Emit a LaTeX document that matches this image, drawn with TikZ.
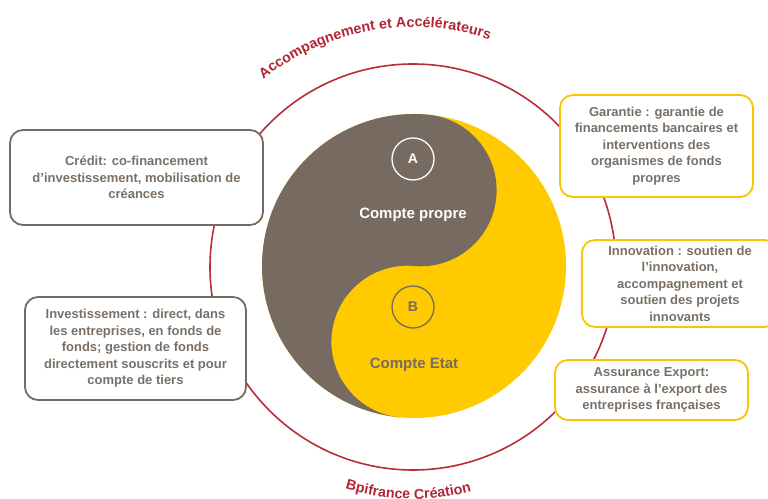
\documentclass[tikz,border=0pt]{standalone}
\usepackage{fontspec}
\setmainfont{Liberation Sans}
\usetikzlibrary{decorations.text}
\definecolor{taupe}{RGB}{119,107,97}
\definecolor{sun}{RGB}{255,203,0}
\definecolor{boxline}{RGB}{250,196,0}
\definecolor{ring}{RGB}{186,45,56}
\definecolor{ringtext}{RGB}{178,38,52}
\definecolor{txt}{RGB}{122,112,103}
\begin{document}
\begin{tikzpicture}[x=1pt,y=1pt,
  infobox/.style={draw, line width=1.8pt, rounded corners=13pt, fill=white,
    inner sep=0pt, text=txt, font=\fontsize{13}{16.5}\selectfont\bfseries, align=center},
  graybox/.style={infobox, draw=taupe},
  yellowbox/.style={infobox, draw=boxline},
  badge/.style={circle, minimum size=42pt, inner sep=0pt, line width=1.3pt,
    font=\fontsize{14}{16}\selectfont\bfseries},
  account/.style={font=\fontsize{15}{18}\selectfont\bfseries}]
\useasboundingbox (0,0) rectangle (768,498);
\coordinate (c) at (413,231);

% outer ring
\draw[ring, line width=1.6pt] (c) circle[radius=203];

% yin-yang of the two accounts
\begin{scope}[shift={(414,232)}, rotate=-5]
  \fill[sun] (0,0) circle[radius=152];
  \fill[taupe] (0,152) arc[start angle=90, end angle=270, radius=152]
    arc[start angle=270, end angle=90, radius=76]
    arc[start angle=-90, end angle=90, radius=76] -- cycle;
\end{scope}

\node[badge, draw=white, text=white] (a) at (413,339) {A};
\node[badge, draw=taupe, text=taupe] (b) at (413,191) {B};
\node[account, text=white] (propre) at (413,283) {Compte propre};
\node[account, text=taupe] (etat) at (414,133) {Compte Etat};

% curved captions
\path[decorate, decoration={text along path, text align=center,
  text={|\fontsize{14.3}{17}\selectfont\bfseries\color{ringtext}|Accompagnement et Accélérateurs}}]
  ([shift={(140:240)}]c) arc[start angle=140, end angle=60, radius=240];
\path[decorate, decoration={text along path, text align=center,
  text={|\fontsize{14.3}{17}\selectfont\bfseries\color{ringtext}|Bpifrance Création}}]
  ([shift={(228.8:232)}]c) arc[start angle=228.8, end angle=308.8, radius=232];

% business lines
\node[graybox, minimum width=253pt, minimum height=95pt] (credit) at (136.5,320.5)
  {Crédit: co-financement\\d'investissement, mobilisation de\\créances};
\node[graybox, minimum width=221pt, minimum height=103pt] (invest) at (135.5,149.5)
  {Investissement : direct, dans\\les entreprises, en fonds de\\fonds; gestion de fonds\\directement souscrits et pour\\compte de tiers};
\node[yellowbox, minimum width=193pt, minimum height=102pt] (garantie) at (656.5,352)
  {Garantie : garantie de\\financements bancaires et\\interventions des\\organismes de fonds\\propres};
\node[yellowbox, minimum width=196pt, minimum height=87pt] (innov) at (680,214.5)
  {Innovation : soutien de\\l’innovation,\\accompagnement et\\soutien des projets\\innovants};
\node[yellowbox, minimum width=193pt, minimum height=60pt] (export) at (651.5,108)
  {Assurance Export:\\assurance à l’export des\\entreprises françaises};
\end{tikzpicture}
\end{document}
